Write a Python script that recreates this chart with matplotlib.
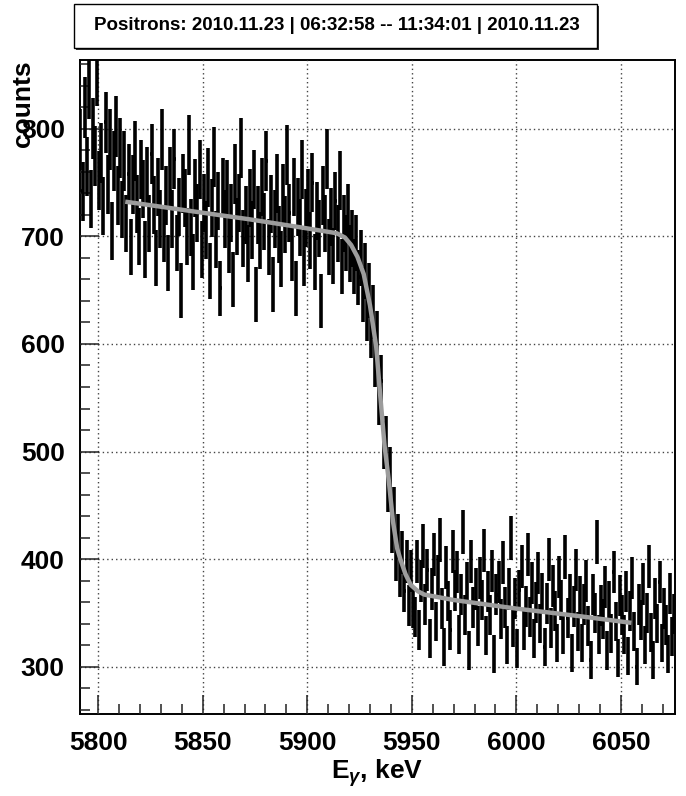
'''Positron spectrum near the 5.9 MeV edge with erf fit (ROOT style).'''

import numpy as np
import matplotlib
matplotlib.use("Agg")
import matplotlib.pyplot as plt
from matplotlib.patches import Rectangle
from matplotlib.ticker import MultipleLocator

plt.rcParams["font.family"] = ["Liberation Sans", "DejaVu Sans"]
plt.rcParams["font.weight"] = "bold"
plt.rcParams["axes.labelweight"] = "bold"
plt.rcParams["mathtext.fontset"] = "custom"
plt.rcParams["mathtext.rm"] = "Liberation Sans:bold"
plt.rcParams["mathtext.it"] = "Liberation Sans:bold:italic"

title = "Positrons: 2010.11.23 | 06:32:58 -- 11:34:01 | 2010.11.23"

# 1 keV bins, left edges from 5791
bin_start = 5791
counts = [
    790, 742, 820, 765, 838, 735, 800, 775, 850, 752,
    778, 728, 806, 748, 790, 705, 770, 802, 738, 782,
    725, 770, 712, 758, 690, 748, 779, 730, 700, 762,
    744, 688, 756, 712, 777, 729, 680, 746, 716, 790,
    703, 738, 675, 756, 716, 772, 694, 727, 650, 749,
    736, 700, 785, 708, 676, 745, 722, 762, 688, 731,
    706, 755, 668, 726, 774, 697, 733, 652, 746, 716,
    744, 692, 722, 660, 758, 709, 731, 782, 698, 720,
    684, 736, 706, 753, 646, 720, 696, 746, 714, 770,
    690, 730, 655, 716, 749, 702, 679, 740, 711, 776,
    722, 685, 746, 652, 727, 708, 762, 680, 717, 736,
    696, 750, 676, 724, 707, 640, 738, 712, 772, 690,
    718, 682, 733, 703, 752, 672, 712, 694, 722, 684,
    698, 672, 694, 662, 680, 646, 668, 628, 650, 612,
    630, 584, 606, 548, 566, 506, 510, 465, 482, 426,
    446, 400, 421, 384, 406, 370, 398, 357, 389, 355,
    346, 398, 334, 380, 412, 358, 390, 326, 372, 404,
    342, 384, 418, 354, 318, 392, 361, 334, 407, 371,
    388, 330, 367, 425, 348, 378, 315, 398, 355, 372,
    338, 382, 362, 408, 329, 370, 348, 389, 312, 367,
    379, 344, 397, 355, 320, 372, 420, 337, 363, 317,
    371, 393, 334, 356, 404, 346, 378, 326, 360, 387,
    340, 368, 318, 359, 400, 336, 375, 352, 322, 383,
    362, 330, 402, 345, 367, 313, 356, 390, 333, 365,
    322, 358, 380, 338, 306, 367, 350, 416, 330, 357,
    344, 374, 315, 361, 331, 388, 342, 308, 366, 348,
    330, 370, 310, 352, 382, 333, 300, 358, 343, 377,
    320, 350, 393, 332, 306, 363, 340, 379, 322, 354,
    339, 312, 368, 328, 349,
]

# fitted edge
fit_e = [5814, 5825, 5850, 5872, 5895, 5914, 5918, 5921, 5924, 5927,
         5930, 5933, 5935, 5937, 5939, 5941, 5943, 5944.5, 5947, 5949.5,
         5953, 5956, 5970, 6000, 6030, 6054]
fit_c = [732, 729, 722, 716, 709, 703, 699, 692, 681, 665,
         636, 597, 550, 505, 473, 435, 410, 400, 386, 376,
         370, 367, 362, 354, 347, 341]

centers = bin_start + 0.5 + np.arange(len(counts))
counts = np.array(counts, dtype=float)

fig = plt.figure(figsize=(6.86, 7.96), dpi=100)
ax = fig.add_axes([80 / 686, 82 / 796, 595 / 686, 654 / 796])

ax.errorbar(centers, counts, xerr=0.5, yerr=np.sqrt(counts), fmt="none",
            ecolor="black", elinewidth=2.6, capsize=0, zorder=3)
ax.plot(fit_e, fit_c, color="#9c9c9c", lw=3.2, solid_joinstyle="round", zorder=4)

ax.set_xlim(5791.3, 6075.9)
ax.set_ylim(256, 864)

ax.xaxis.set_major_locator(MultipleLocator(50))
ax.xaxis.set_minor_locator(MultipleLocator(10))
ax.yaxis.set_major_locator(MultipleLocator(100))
ax.yaxis.set_minor_locator(MultipleLocator(20))

ax.tick_params(which="both", direction="in", top=False, right=False, width=1.1,
               labelsize=19, color="#222222")
ax.tick_params(which="major", length=14)
ax.tick_params(which="minor", length=7)
ax.tick_params(axis="y", pad=11)
ax.tick_params(axis="x", pad=12)

ax.grid(which="major", color="#444444", lw=1.0, linestyle=(0, (1, 2.2)))
ax.set_axisbelow(False)
for s in ax.spines.values():
    s.set_linewidth(1.4)

ax.set_xlabel(r"E$_\gamma$, keV", fontsize=19, labelpad=2)
ax.set_ylabel("counts", fontsize=19, loc="top")
ax.yaxis.set_label_coords(-0.075, 1.0)

# title box with a small ROOT-like shadow
fig.patches.append(Rectangle((76 / 686, 746 / 796), 523 / 686, 44 / 796,
                             transform=fig.transFigure, facecolor="#333333",
                             edgecolor="none", zorder=1))
fig.patches.append(Rectangle((74 / 686, 748 / 796), 523 / 686, 44 / 796,
                             transform=fig.transFigure, facecolor="white",
                             edgecolor="black", lw=1.0, zorder=2))
fig.text(337 / 686, 1 - 25 / 796, title, ha="center", va="center",
         fontsize=13.5, fontweight="bold", zorder=3)

fig.savefig("out.png", dpi=100)
